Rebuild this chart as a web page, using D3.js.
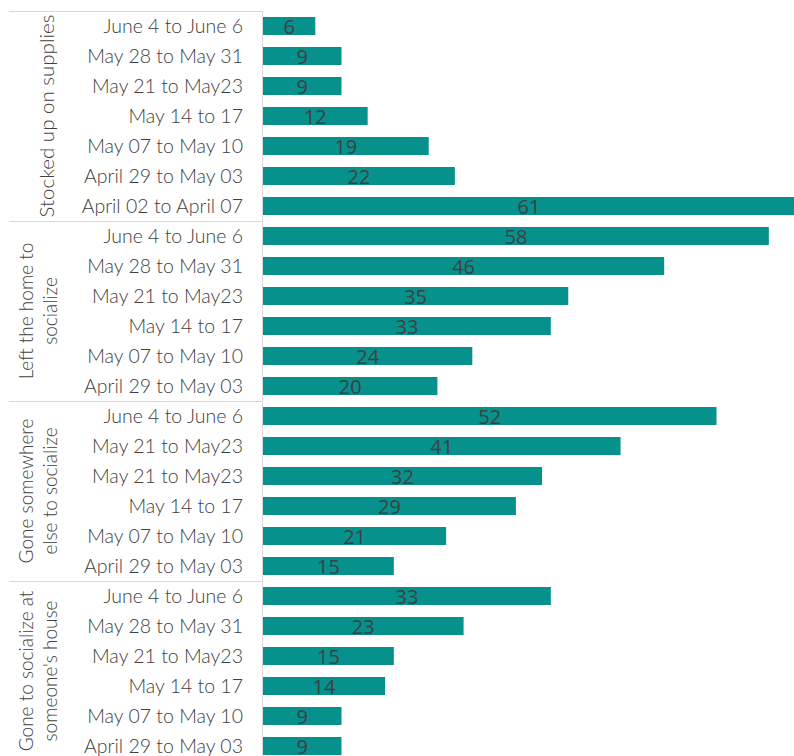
<!DOCTYPE html>
<html>
<head>
<meta charset="utf-8">
<script src="https://cdn.jsdelivr.net/npm/d3@7"></script>
<style>
  html, body { margin: 0; padding: 0; background: #fff; }
  svg { display: block; }
</style>
</head>
<body>
<svg id="chart" width="794" height="756"></svg>
<script>
// Survey groups, drawn top to bottom
const groups = [
  ["Stocked up on supplies"],
  ["Left the home to", "socialize"],
  ["Gone somewhere", "else to socialize"],
  ["Gone to socialize at", "someone's house"]
];

const stockedLabels = ["June 4 to June 6", "May 28 to May 31", "May 21 to May23", "May 14 to 17", "May 07 to May 10", "April 29 to May 03", "April 02 to April 07"];
const stockedValues = [6, 9, 9, 12, 19, 22, 61];

const leftHomeLabels = ["June 4 to June 6", "May 28 to May 31", "May 21 to May23", "May 14 to 17", "May 07 to May 10", "April 29 to May 03"];
const leftHomeValues = [58, 46, 35, 33, 24, 20];

const goneElsewhereLabels = ["June 4 to June 6", "May 21 to May23", "May 21 to May23", "May 14 to 17", "May 07 to May 10", "April 29 to May 03"];
const goneElsewhereValues = [52, 41, 32, 29, 21, 15];

const houseLabels = ["June 4 to June 6", "May 28 to May 31", "May 21 to May23", "May 14 to 17", "May 07 to May 10", "April 29 to May 03"];
const houseValues = [33, 23, 15, 14, 9, 9];

const groupLabels = [stockedLabels, leftHomeLabels, goneElsewhereLabels, houseLabels];
const groupValues = [stockedValues, leftHomeValues, goneElsewhereValues, houseValues];

// Flatten into rows with unique keys (some period labels repeat)
const rows = [];
groupLabels.forEach((labels, g) => {
  labels.forEach((lab, i) => {
    rows.push({ key: g + "-" + i, group: g, label: lab, value: groupValues[g][i] });
  });
});

const svg = d3.select("#chart");
const axisX = 262.5;
const plotTop = 11, plotBottom = 761;

const y = d3.scaleBand()
  .domain(rows.map(d => d.key))
  .range([plotTop, plotBottom])
  .paddingInner(0.4)
  .paddingOuter(0.2);

const x = d3.scaleLinear()
  .domain([0, 61])
  .range([263, 795]);

const textColor = "#404040";
const labelFont = "Lato, 'Open Sans', sans-serif";

// Bars
svg.append("g").selectAll("rect")
  .data(rows)
  .join("rect")
  .attr("x", x(0))
  .attr("y", d => y(d.key))
  .attr("width", d => x(d.value) - x(0))
  .attr("height", y.bandwidth())
  .attr("fill", "#06918D");

// Value labels, centred in each bar
svg.append("g").selectAll("text")
  .data(rows)
  .join("text")
  .attr("x", d => (x(0) + x(d.value)) / 2)
  .attr("y", d => y(d.key) + y.bandwidth() / 2)
  .attr("dy", "0.38em")
  .attr("text-anchor", "middle")
  .attr("font-family", "'Open Sans', sans-serif")
  .attr("font-size", 20)
  .attr("fill", textColor)
  .text(d => d.value);

// Period labels
svg.append("g").selectAll("text")
  .data(rows)
  .join("text")
  .attr("x", 243)
  .attr("y", d => y(d.key) + y.bandwidth() / 2)
  .attr("dy", "0.36em")
  .attr("text-anchor", "end")
  .attr("font-family", labelFont)
  .attr("font-weight", 300)
  .attr("font-size", 19.5)
  .attr("fill", textColor)
  .text(d => d.label);

// Group boundaries and separators
const step = y.step();
const groupBounds = groupLabels.map((labels, g) => {
  const first = rows.find(r => r.group === g);
  const last = rows.filter(r => r.group === g).slice(-1)[0];
  const y0 = y(first.key) - (step - y.bandwidth()) / 2;
  const y1 = y(last.key) + y.bandwidth() + (step - y.bandwidth()) / 2;
  return { g, y0, y1 };
});

const sepYs = [groupBounds[0].y0].concat(groupBounds.slice(0, -1).map(b => b.y1));
svg.append("g").selectAll("line")
  .data(sepYs)
  .join("line")
  .attr("x1", 9)
  .attr("x2", axisX)
  .attr("y1", d => Math.round(d) + 0.5)
  .attr("y2", d => Math.round(d) + 0.5)
  .attr("stroke", "#d9d9d9")
  .attr("stroke-width", 1);

// Category axis line
svg.append("line")
  .attr("x1", axisX).attr("x2", axisX)
  .attr("y1", groupBounds[0].y0).attr("y2", plotBottom)
  .attr("stroke", "#d9d9d9")
  .attr("stroke-width", 1);

// Rotated group titles
const lineGap = 24;
groupBounds.forEach(b => {
  const lines = groups[b.g];
  const cy = (b.y0 + b.y1) / 2;
  const baseX = lines.length > 1 ? 26 : 47;
  const t = svg.append("text")
    .attr("transform", `translate(${baseX},${cy}) rotate(-90)`)
    .attr("text-anchor", "middle")
    .attr("font-family", labelFont)
    .attr("font-weight", 300)
    .attr("font-size", lines.length > 1 ? 19 : 20.5)
    .attr("fill", textColor);
  lines.forEach((ln, i) => {
    t.append("tspan")
      .attr("x", 0)
      .attr("y", i * lineGap)
      .attr("dy", "0.36em")
      .text(ln);
  });
});
</script>
</body>
</html>
